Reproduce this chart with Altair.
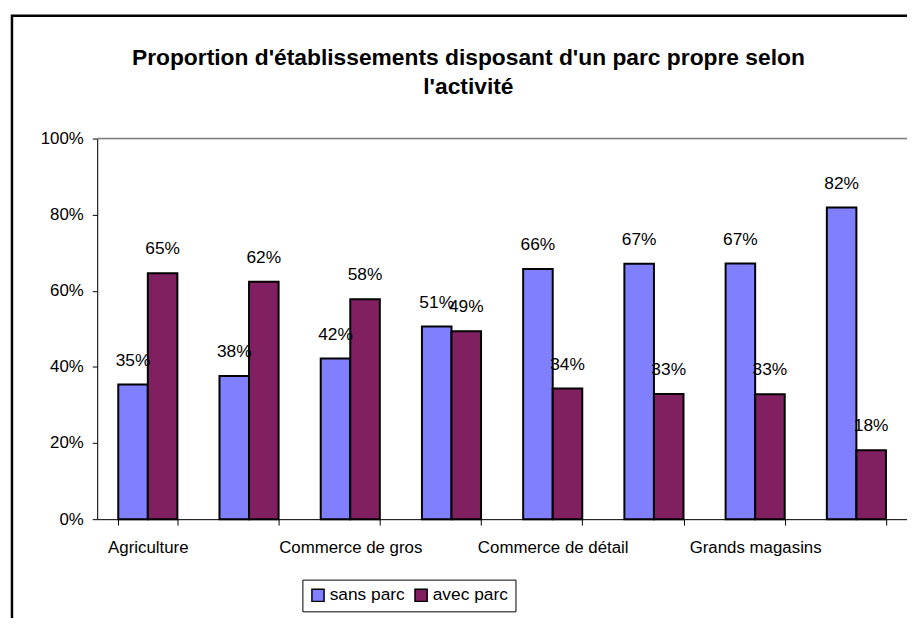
import altair as alt
import pandas as pd

categories = ["Agriculture", "Industrie", "Commerce de gros", "Transports",
              "Commerce de détail", "Services", "Grands magasins", "Autres"]
shown_labels = ["Agriculture", "Commerce de gros", "Commerce de détail", "Grands magasins"]
series = ["sans parc", "avec parc"]
sans_parc = [35.4, 37.6, 42.2, 50.6, 65.7, 67.1, 67.2, 81.9]
avec_parc = [64.6, 62.4, 57.8, 49.4, 34.3, 32.9, 32.8, 18.1]
colors = ["#8080FF", "#802060"]

rows = []
for i, c in enumerate(categories):
    rows.append({"cat": c, "serie": series[0], "v": sans_parc[i] / 100})
    rows.append({"cat": c, "serie": series[1], "v": avec_parc[i] / 100})
df = pd.DataFrame(rows)

FONT = "Liberation Sans"
W, H = 817, 384

x = alt.X("cat:N", sort=categories, title=None,
          scale=alt.Scale(paddingInner=0.416, paddingOuter=0.208),
          axis=alt.Axis(labelAngle=0, labelFontSize=17, labelFont=FONT, labelColor="black",
                        domainColor="black", tickColor="black", tickSize=6, tickBand="extent",
                        labelPadding=15,
                        labelExpr="indexof(" + str(shown_labels).replace("'", '"') + ", datum.label) >= 0 ? datum.label : ''"))
y = alt.Y("v:Q", title=None,
          scale=alt.Scale(domain=[0, 1], nice=False),
          axis=alt.Axis(format=".0%", values=[0, 0.2, 0.4, 0.6, 0.8, 1.0], grid=False,
                        labelFontSize=17, labelFont=FONT, labelColor="black",
                        domainColor="black", tickColor="black", tickSize=5, labelPadding=9))
color = alt.Color("serie:N", sort=series,
                  scale=alt.Scale(domain=series, range=colors),
                  legend=alt.Legend(title=None, orient="none", legendX=207, legendY=445,
                                    direction="horizontal", columns=2, symbolType="square",
                                    symbolSize=150, symbolStrokeColor="black", symbolStrokeWidth=1.5,
                                    labelFontSize=17.5, labelFont=FONT, labelColor="black",
                                    strokeColor="black", padding=7, columnPadding=6,
                                    labelOffset=3))

base = alt.Chart(df)
xoff = alt.XOffset("serie:N", sort=series, scale=alt.Scale(paddingInner=0, paddingOuter=0))
bars = base.mark_bar(stroke="black", strokeWidth=2).encode(
    x=x, y=y, color=color, xOffset=xoff,
)
labels = base.mark_text(fontSize=17.5, font=FONT, color="black", dy=-24, baseline="middle").encode(
    x=x, y=y, xOffset=xoff,
    text=alt.Text("v:Q", format=".0%"),
)
top_line = alt.Chart(pd.DataFrame({"v": [1.0]})).mark_rule(color="#808080", strokeWidth=1.5).encode(
    y=alt.Y("v:Q", scale=alt.Scale(domain=[0, 1], nice=False))
)
frame = alt.Chart(pd.DataFrame({"a": [0]})).mark_rect(
    filled=False, stroke="black", strokeWidth=2.5
).encode(x=alt.value(-86), x2=alt.value(1200), y=alt.value(-124), y2=alt.value(1200))

chart = alt.layer(frame, top_line, bars, labels).properties(
    width=W, height=H,
    autosize=alt.AutoSizeParams(type="none"),
    padding={"left": 90, "top": 129, "right": 0, "bottom": 97},
    title=alt.TitleParams(["Proportion d'établissements disposant d'un parc propre selon", "l'activité"],
                          fontSize=23, font=FONT, fontWeight="bold", color="black",
                          anchor="middle", frame="group", dx=-34, offset=-85, lineHeight=29),
).configure_view(stroke=None).configure(background="white")

chart.save("out.html", embed_options={"renderer": "svg", "actions": False})
